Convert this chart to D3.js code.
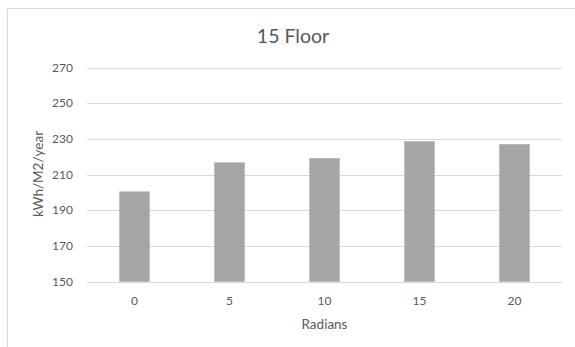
<!DOCTYPE html>
<html>
<head>
<meta charset="utf-8">
<script src="https://cdn.jsdelivr.net/npm/d3@7"></script>
<style>
  html, body { margin: 0; padding: 0; background: #fff; }
  svg { display: block; }
  text { font-family: Lato, "Open Sans", sans-serif; fill: #595959; }
</style>
</head>
<body>
<svg id="chart" width="575" height="347"></svg>
<script>
// Annual energy use per orientation for the 15th floor
const categories = ["0", "5", "10", "15", "20"];
const values = [200.3, 216.6, 219.1, 228.5, 226.9];
const yTicks = [150, 170, 190, 210, 230, 250, 270];
const chartTitle = "15 Floor";
const xTitle = "Radians";
const yTitle = "kWh/M2/year";

const W = 575, H = 347;
const plot = { left: 87, right: 562, top: 67.5, bottom: 281.5 };

const svg = d3.select("#chart");

// chart area frame
svg.append("path")
  .attr("d", `M7.5,${H} V8.5 H${W}`)
  .attr("fill", "none")
  .attr("stroke", "#d9d9d9")
  .attr("stroke-width", 1);

const x = d3.scaleBand()
  .domain(categories)
  .range([plot.left, plot.right])
  .paddingInner(0.684)
  .paddingOuter(0.342);

const y = d3.scaleLinear()
  .domain([150, 270])
  .range([plot.bottom, plot.top]);

// horizontal gridlines
svg.append("g")
  .selectAll("line")
  .data(yTicks)
  .join("line")
  .attr("x1", plot.left)
  .attr("x2", plot.right)
  .attr("y1", d => Math.round(y(d)) + 0.5)
  .attr("y2", d => Math.round(y(d)) + 0.5)
  .attr("stroke", "#d9d9d9")
  .attr("stroke-width", 1);

// bars
svg.append("g")
  .selectAll("rect")
  .data(values)
  .join("rect")
  .attr("x", (d, i) => x(categories[i]))
  .attr("width", x.bandwidth())
  .attr("y", d => y(d))
  .attr("height", d => y(150) - y(d))
  .attr("fill", "#a5a5a5")
  .attr("stroke", "#b4b4b4")
  .attr("stroke-width", 0.6);

// y tick labels
svg.append("g")
  .selectAll("text")
  .data(yTicks)
  .join("text")
  .attr("x", 73)
  .attr("y", d => y(d))
  .attr("dy", "0.35em")
  .attr("text-anchor", "end")
  .attr("font-size", 12)
  .text(d => d);

// x tick labels
svg.append("g")
  .selectAll("text")
  .data(categories)
  .join("text")
  .attr("x", d => x(d) + x.bandwidth() / 2)
  .attr("y", 305)
  .attr("text-anchor", "middle")
  .attr("font-size", 12)
  .text(d => d);

// title
svg.append("text")
  .attr("x", 293)
  .attr("y", 43)
  .attr("text-anchor", "middle")
  .attr("font-size", 19.5)
  .text(chartTitle);

// axis titles
svg.append("text")
  .attr("x", (plot.left + plot.right) / 2)
  .attr("y", 328.5)
  .attr("text-anchor", "middle")
  .attr("font-size", 13.5)
  .text(xTitle);

svg.append("text")
  .attr("transform", `translate(42.5,174) rotate(-90)`)
  .attr("text-anchor", "middle")
  .attr("font-size", 13.5)
  .text(yTitle);
</script>
</body>
</html>
